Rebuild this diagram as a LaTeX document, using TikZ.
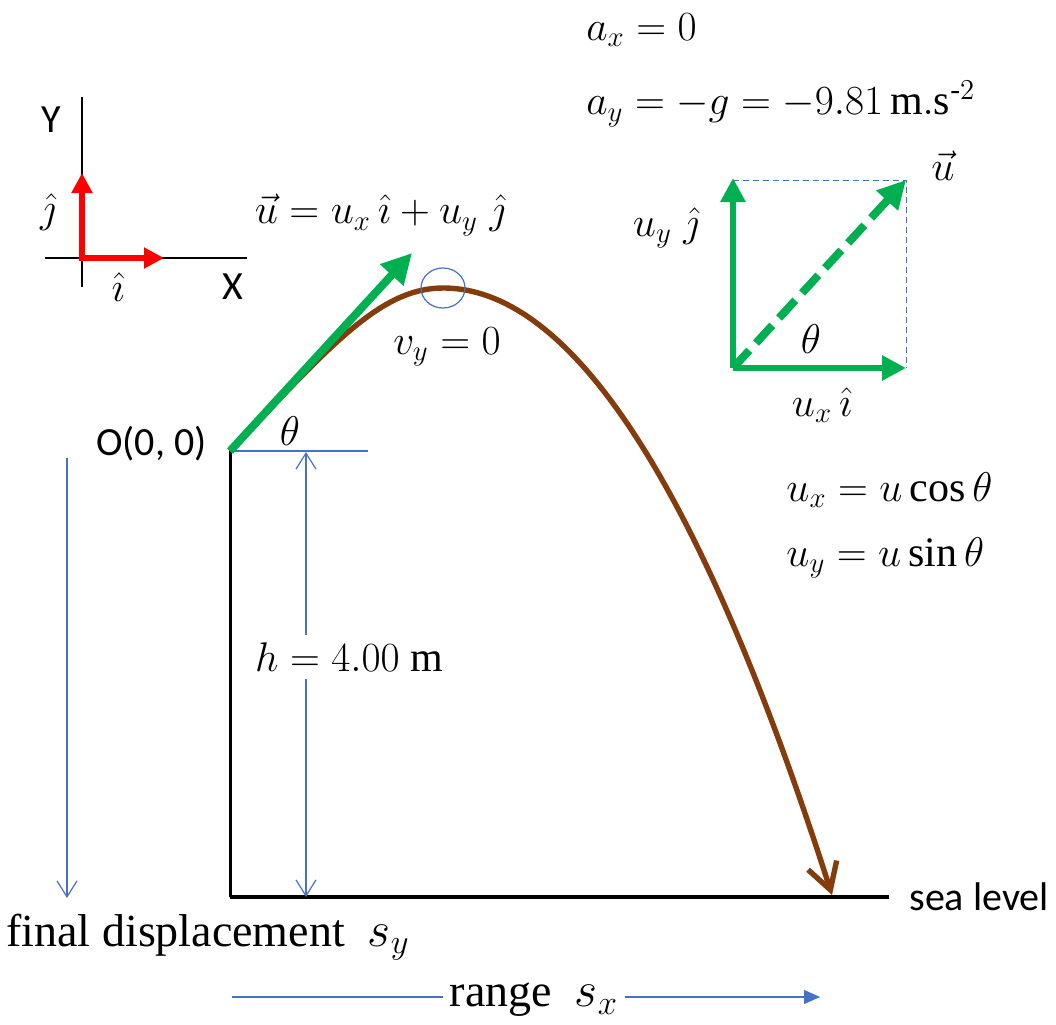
\documentclass[tikz,border=0pt]{standalone}
\usepackage{amsmath}
\usepackage{fontspec}
\setmainfont{Liberation Serif}
\setsansfont{Carlito}
\usepackage{tikz}
\usetikzlibrary{arrows.meta,positioning,calc,shapes.geometric}
\definecolor{vecgreen}{RGB}{0,176,80}
\definecolor{pathbrown}{RGB}{132,60,12}
\definecolor{dimblue}{RGB}{68,114,196}

\begin{document}
\begin{tikzpicture}[
    x=0.5pt, y=-0.5pt,
    lbl/.style={font=\fontsize{21}{25}\selectfont, inner sep=0pt},
    txt/.style={font=\fontsize{23}{27}\selectfont, inner sep=0pt},
    sans/.style={font=\sffamily\fontsize{20}{24}\selectfont, inner sep=0pt},
    dim/.style={dimblue, line width=0.6pt},
    uvec/.style={vecgreen, line width=4pt, -{Triangle[length=15pt, width=15pt]}},
    comp/.style={vecgreen, line width=3pt, -{Triangle[length=12pt, width=12pt]}},
    unit/.style={red, line width=3pt, line cap=rect, -{Triangle[length=10pt, width=10pt]}},
    traj/.style={pathbrown, line width=2.7pt, -{Straight Barb[length=13pt, width=15pt]}},
  ]
  \useasboundingbox (0,0) rectangle (1056,1024);

  \coordinate (O) at (230,451);
  \coordinate (peak) at (443,288);
  \coordinate (land) at (832,895);
  \coordinate (base) at (230,897);

  % coordinate axes and unit vectors
  \draw[line width=0.75pt] (82,97) -- (82,287);
  \draw[line width=0.75pt] (45,258) -- (247,258);
  \coordinate (ax0) at (82,258);
  \draw[unit] (ax0) -- (82,173);
  \draw[unit] (ax0) -- (164,258);
  \node[sans] (ylab) at (51,120) {Y};
  \node[sans] (xlab) at (233,287) {X};
  \node[lbl] (jlab) at (48,212) {$\hat{\jmath}$};
  \node[lbl] (ilab) at (118,287) {$\hat{\imath}$};

  % cliff, sea level and dimensions
  \node[sans, anchor=west, inner sep=10pt] (sea) at (889,897) {sea level};
  \draw[line width=1.5pt] (O) -- (base);
  \draw[line width=2pt] (base) -- (sea.west);
  \coordinate (hend) at (368,451);
  \draw[dim] (O) -- (hend);
  \coordinate (htop) at (306,452);
  \coordinate (hbot) at (306,897);
  \draw[dim, {Straight Barb[length=8pt, width=10pt]}-{Straight Barb[length=8pt, width=10pt]}] (htop) -- (hbot);
  \node[lbl, fill=white, inner sep=4pt] (hlab) at (349,657) {$h = 4.00\ \mathrm{m}$};
  \coordinate (sytop) at (67,458);
  \coordinate (sybot) at (67,898);
  \draw[dim, -{Straight Barb[length=8pt, width=10pt]}] (sytop) -- (sybot);
  \node[txt] (disp) at (208,937) {final displacement~~$s_y$};
  \node[txt, inner sep=3pt] (range) at (534,1000) {range~~$s_x$};
  \coordinate (rstart) at (232,997);
  \coordinate (rend) at (820,997);
  \draw[dim] (rstart) -- (rstart -| range.west);
  \draw[dim, -{Triangle[length=8pt, width=7pt]}] (rstart -| range.east) -- (rend);

  % trajectory
  \draw[traj] (O) .. controls (330,346) and (380,288) .. (peak)
    .. controls (573,288) and (702,490) .. (land);
  \node[ellipse, draw=dimblue, line width=0.6pt, minimum width=22pt, minimum height=20pt, inner sep=0pt] (top) at (peak) {};
  \coordinate (utip) at (412,253);
  \draw[uvec] (O) -- (utip);
  \node[lbl] (ueq) at (380,215) {$\vec{u} = u_x\,\hat{\imath} + u_y\;\hat{\jmath}$};
  \node[lbl] (vylab) at (447,347) {$v_y = 0$};
  \node[lbl] (th1) at (290,431) {$\theta$};
  \node[sans, anchor=east] (orig) at (207,444) {O(0, 0)};

  % accelerations
  \node[lbl, anchor=west] (axeq) at (586,30) {$a_x = 0$};
  \node[lbl, anchor=west] (ayeq) at (586,104) {$a_y = -g = -9.81\,\mathrm{m.s}^{\text{-}2}$};

  % components of u
  \coordinate (c0) at (733,368);
  \coordinate (cy) at (733,178);
  \coordinate (cx) at (906,368);
  \coordinate (cc) at (906,180);
  \draw[dimblue, densely dashed, line width=0.5pt] (733,180) -- (cc) -- (cx);
  \draw[comp] (c0) -- (cy);
  \draw[comp] (c0) -- (cx);
  \draw[vecgreen, line width=4pt, dash pattern=on 12pt off 5pt, -{Triangle[length=14pt, width=14pt]}] (c0) -- (cc);
  \node[lbl] (ulab) at (943,166) {$\vec{u}$};
  \node[lbl] (uylab) at (666,228) {$u_y\;\hat{\jmath}$};
  \node[lbl] (th2) at (811,339) {$\theta$};
  \node[lbl] (uxlab) at (822,405) {$u_x\,\hat{\imath}$};
  \node[lbl, anchor=west] (uxeq) at (786,490) {$u_x = u\cos\theta$};
  \node[lbl, anchor=west] (uyeq) at (786,558) {$u_y = u\sin\theta$};
\end{tikzpicture}
\end{document}
